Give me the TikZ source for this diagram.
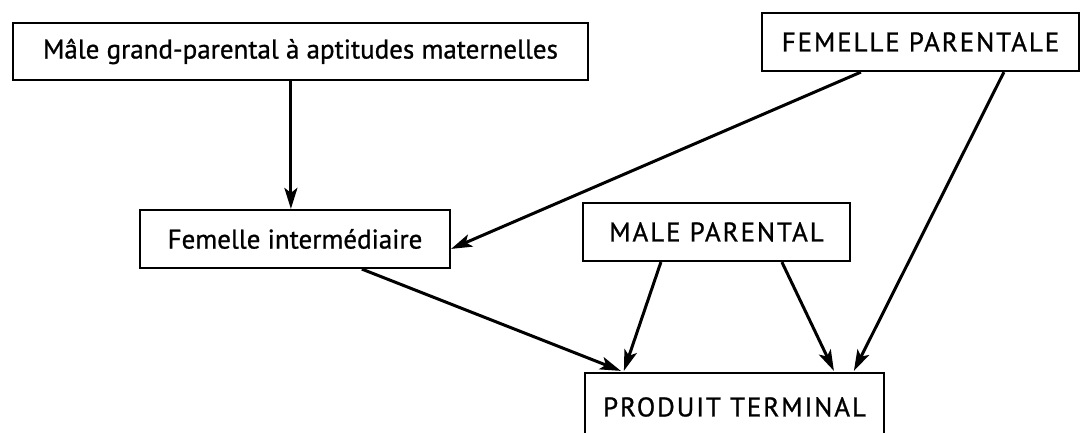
\documentclass[tikz,border=0pt]{standalone}
\usepackage{fontspec}
\setmainfont{PT Sans}[FakeBold=0.9]
\newfontfamily\capsfont{PT Sans}[LetterSpace=7,FakeBold=0.9]
\usetikzlibrary{arrows.meta,calc}
\begin{document}
\begin{tikzpicture}[x=1pt,y=-1pt,
  box/.style={draw,line width=2.2pt,inner sep=0pt,font=\fontsize{27}{30}\selectfont},
  capsbox/.style={box,font=\fontsize{27}{30}\capsfont},
  link/.style={line width=3pt,-{Stealth[length=21pt,width=13pt,inset=5pt]}}]
\useasboundingbox (0,0) rectangle (1082,433);
\clip (0,0) rectangle (1082,433);
\node[box,minimum width=575pt,minimum height=57pt] (b1) at (300.5,51.5) {Mâle grand-parental à aptitudes maternelles};
\node[capsbox,minimum width=317pt,minimum height=58pt] (b2) at (920.5,42) {FEMELLE PARENTALE};
\node[box,minimum width=310pt,minimum height=58pt] (b3) at (295,239) {Femelle intermédiaire};
\node[capsbox,minimum width=267pt,minimum height=58pt] (b4) at (716.5,232) {MALE PARENTAL};
\node[capsbox,minimum width=299pt,minimum height=68pt] (b5) at (734.5,407) {PRODUIT TERMINAL};
\draw[link] ($(b1.south west)+(279,0)$) -- ($(b3.north west)+(152,0)$);
\draw[link] ($(b2.south west)+(100,0)$) -- ($(b3.north east)+(0,40)$);
\draw[link] ($(b3.south west)+(223,0)$) -- ($(b5.north west)+(37,-1)$);
\draw[link] ($(b4.south west)+(79,0)$) -- ($(b5.north west)+(40,-1)$);
\draw[link] ($(b4.south west)+(200,0)$) -- ($(b5.north west)+(250,-1)$);
\draw[link] ($(b2.south west)+(243,0)$) -- ($(b5.north west)+(270,-1)$);
\end{tikzpicture}
\end{document}
